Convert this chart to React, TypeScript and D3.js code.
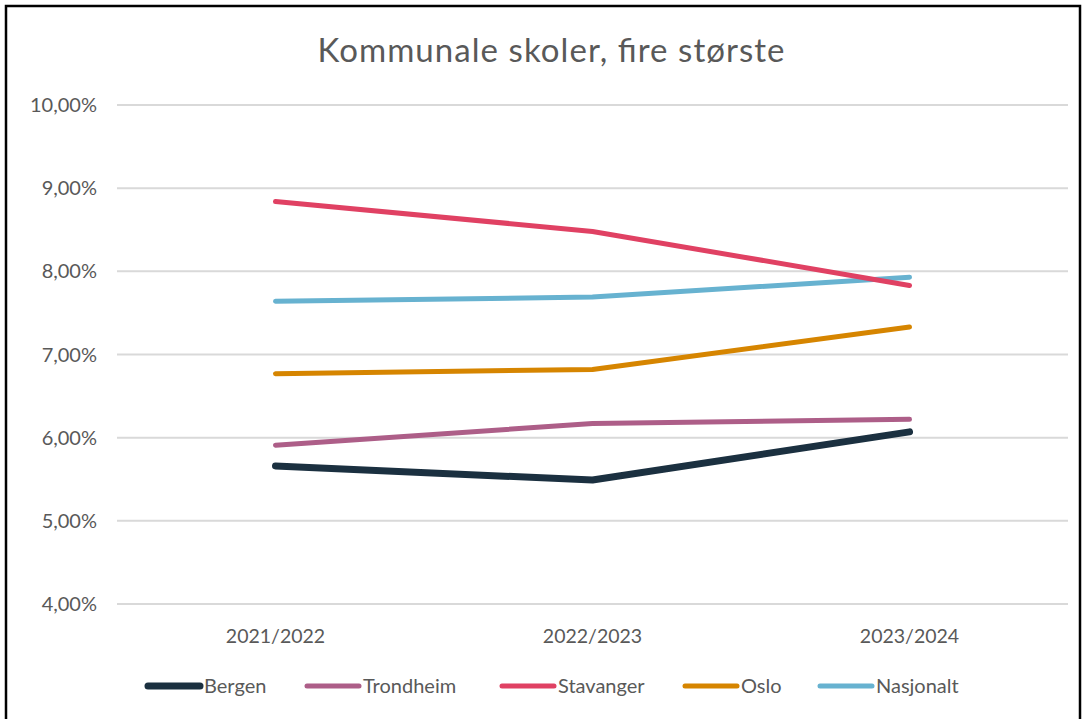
import React from "react";
import * as d3 from "d3";

const categories = ["2021/2022", "2022/2023", "2023/2024"];
const seriesNames = ["Bergen", "Trondheim", "Stavanger", "Oslo", "Nasjonalt"];
const bergen = [5.66, 5.49, 6.07];
const trondheim = [5.91, 6.17, 6.22];
const stavanger = [8.84, 8.48, 7.83];
const oslo = [6.77, 6.82, 7.33];
const nasjonalt = [7.64, 7.69, 7.93];
const yTicks = [4, 5, 6, 7, 8, 9, 10];
const colors = ["#1b3040", "#ad5e88", "#e04163", "#d68500", "#67b2d0"];
const widths = [7, 5, 5, 5, 5];

const W = 1083, H = 719;
const font = "Lato, 'Open Sans', sans-serif";

export default function App() {
  const x = d3.scaleBand<string>().domain(categories).range([117, 1068]);
  const y = d3.scaleLinear().domain([4, 10]).range([604, 105]);
  const data = [bergen, trondheim, stavanger, oslo, nasjonalt];
  const line = d3
    .line<number>()
    .x((_, i) => (x(categories[i]) as number) + x.bandwidth() / 2)
    .y((d) => y(d));
  const fmt = (v: number) => v.toFixed(2).replace(".", ",") + "%";
  const legendX = [145, 304, 499, 682, 817];
  const drawOrder = [4, 3, 1, 2, 0];
  return (
    <svg width={W} height={H} style={{ position: "absolute", left: 0, top: 0, background: "#fff" }}>
      <rect x={6} y={6} width={1074} height={H + 10} fill="#fff" stroke="#000" strokeWidth={2.5} />
      <text x={551} y={62} textAnchor="middle" fontFamily={font} fontSize={33} fill="#595959" textLength={467} lengthAdjust="spacing">
        Kommunale skoler, fire største
      </text>
      {yTicks.map((t) => (
        <g key={t}>
          <line x1={117} x2={1068} y1={y(t)} y2={y(t)} stroke="#d9d9d9" strokeWidth={2} />
          <text x={97} y={y(t) + 7} textAnchor="end" fontFamily={font} fontSize={20} fill="#595959">
            {fmt(t)}
          </text>
        </g>
      ))}
      {categories.map((c) => (
        <text key={c} x={(x(c) as number) + x.bandwidth() / 2} y={643} textAnchor="middle" fontFamily={font} fontSize={19.5} fill="#595959">
          {c}
        </text>
      ))}
      {drawOrder.map((i) => (
        <path key={seriesNames[i]} d={line(data[i]) || ""} fill="none" stroke={colors[i]} strokeWidth={widths[i]} strokeLinecap="round" strokeLinejoin="round" />
      ))}
      {seriesNames.map((n, i) => (
        <g key={n}>
          <line x1={legendX[i] + 3} x2={legendX[i] + 55} y1={686} y2={686} stroke={colors[i]} strokeWidth={widths[i]} strokeLinecap="round" />
          <text x={legendX[i] + 59} y={693} fontFamily={font} fontSize={20} fill="#595959">
            {n}
          </text>
        </g>
      ))}
    </svg>
  );
}
